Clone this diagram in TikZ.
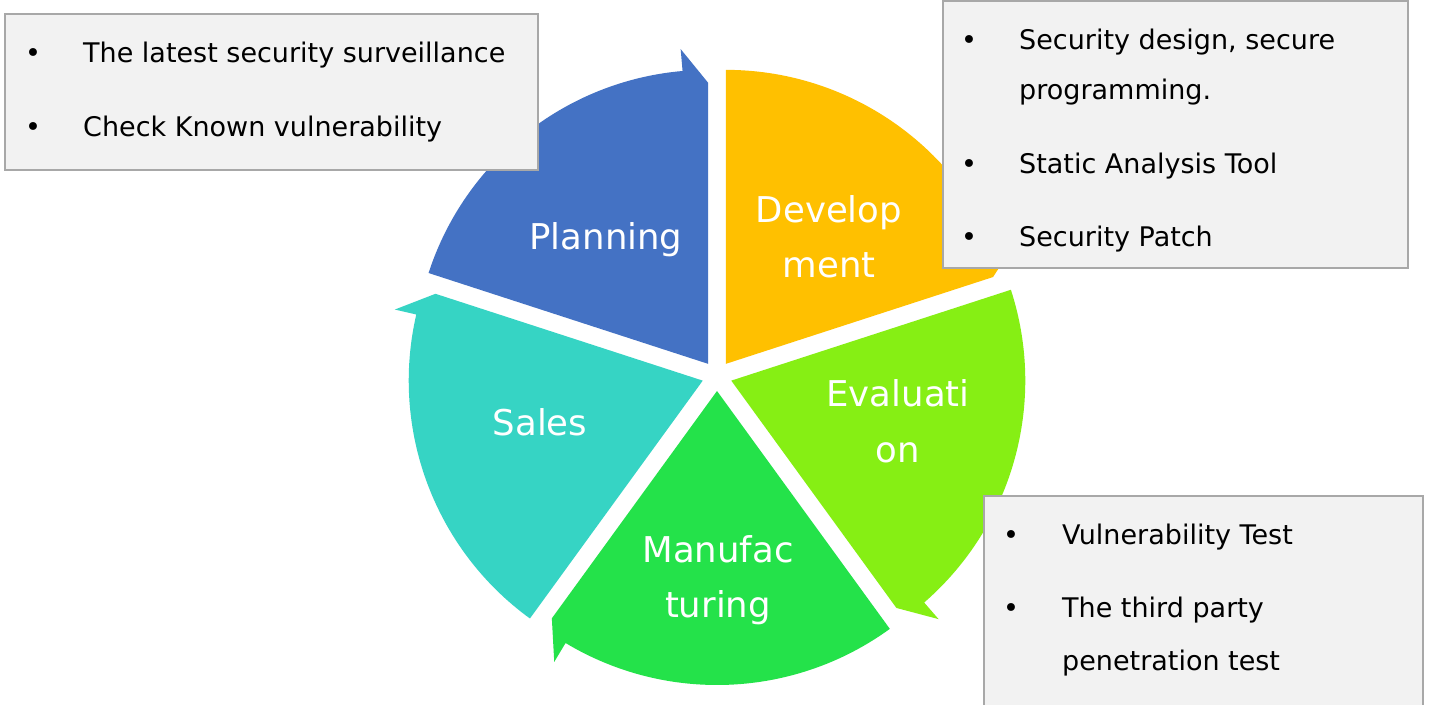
\documentclass[tikz,border=0pt]{standalone}
\usepackage{fontspec}
\setmainfont{DejaVu Sans}
\definecolor{cPlan}{HTML}{4472C4}
\definecolor{cDev}{HTML}{FFC000}
\definecolor{cEval}{RGB}{134,239,20}
\definecolor{cMan}{HTML}{24E24A}
\definecolor{cSales}{HTML}{36D4C4}
\definecolor{boxfill}{HTML}{F2F2F2}
\definecolor{boxline}{HTML}{A8A8A8}
\tikzset{
  seglabel/.style={text=white, font=\fontsize{35.5}{54}\selectfont, inner sep=0pt, anchor=base},
  infobox/.style={fill=boxfill, draw=boxline, line width=2.5pt},
  bul/.style={anchor=base, inner sep=0pt, font=\fontsize{27}{27}\selectfont},
  btxt/.style={anchor=base west, inner sep=0pt, font=\fontsize{27}{27}\selectfont},
}
\begin{document}
\begin{tikzpicture}[x=1pt,y=1pt]
\useasboundingbox (0,0) rectangle (1429,704);
\clip (0,0) rectangle (1429,704);
\fill[white] (0,0) rectangle (1429,704);
\coordinate (C) at (717,328);
% segments of the cycle
\foreach \t/\col in {162/cPlan, 90/cDev, 18/cEval, -54/cMan, -126/cSales}{
  \pgfmathsetmacro\l{\t-72}
  \pgfmathsetmacro\b{\t-36}
  \pgfmathsetmacro\lb{\t-67}
  \begin{scope}[shift={(C)}]
    \fill[\col, shift={(\b:15)}] (0,0) -- (\t:294)
      arc[start angle=\t, end angle=\lb, radius=294pt]
      -- (\lb:316) -- (\l:281) -- cycle;
  \end{scope}
}
% segment labels
\node[seglabel] (plan) at (606,454) {Planning};
\node[seglabel] (dev1) at (829,481) {Develop};
\node[seglabel] (dev2) at (829,426) {ment};
\node[seglabel] (eval1) at (898,297) {Evaluati};
\node[seglabel] (eval2) at (898,241) {on};
\node[seglabel] (man1) at (718,141) {Manufac};
\node[seglabel] (man2) at (718,86) {turing};
\node[seglabel] (sales) at (540,268) {Sales};
% info boxes
\path[infobox] (5,690) rectangle (538,534);
\node[bul] (b11) at (33,641) {•};
\node[btxt] (t11) at (83,641) {The latest security surveillance};
\node[bul] (b12) at (33,567) {•};
\node[btxt] (t12) at (83,567) {Check Known vulnerability};

\path[infobox] (943,703) rectangle (1408,436);
\node[bul] (b21) at (969,654) {•};
\node[btxt] (t21) at (1019,654) {Security design, secure};
\node[btxt] (t22) at (1019,604) {programming.};
\node[bul] (b22) at (969,530) {•};
\node[btxt] (t23) at (1019,530) {Static Analysis Tool};
\node[bul] (b23) at (969,457) {•};
\node[btxt] (t24) at (1019,457) {Security Patch};

\path[infobox] (984,208) rectangle (1423,-10);
\node[bul] (b31) at (1011,159) {•};
\node[btxt] (t31) at (1062,159) {Vulnerability Test};
\node[bul] (b32) at (1011,86) {•};
\node[btxt] (t32) at (1062,86) {The third party};
\node[btxt] (t33) at (1062,34) {penetration test};
\end{tikzpicture}
\end{document}
